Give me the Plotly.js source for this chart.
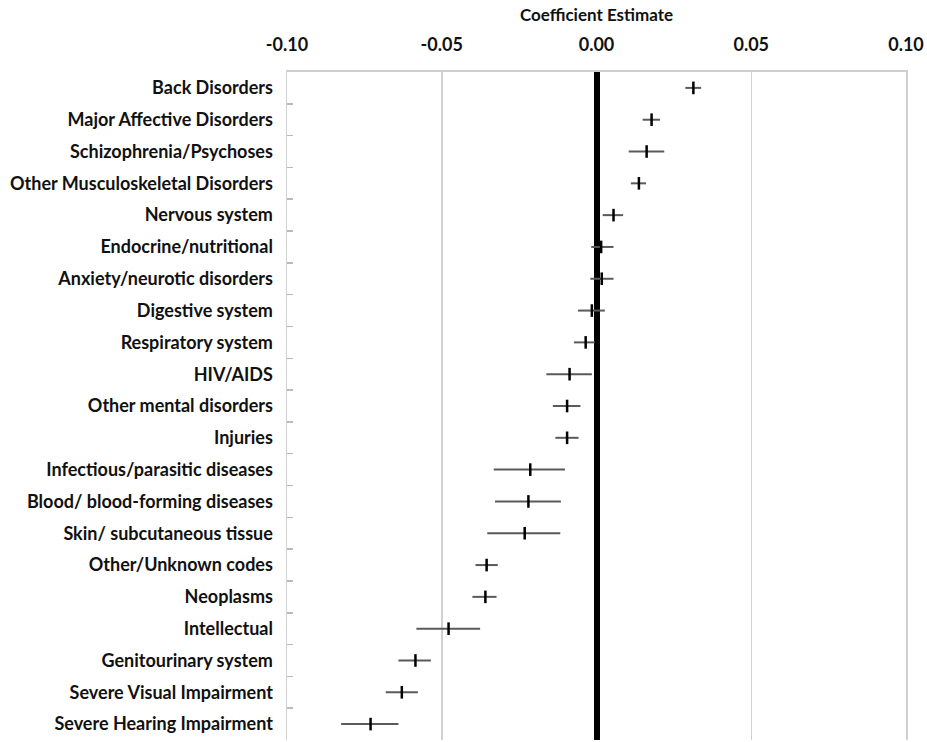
<!DOCTYPE html>
<html>
<head>
<meta charset="utf-8">
<script src="https://cdn.plot.ly/plotly-3.0.1.min.js"></script>
<style>html,body{margin:0;padding:0;background:#fff;}#chart{width:927px;height:742px;}</style>
</head>
<body>
<div id="chart"></div>
<script>
const categories = [
  "Back Disorders",
  "Major Affective Disorders",
  "Schizophrenia/Psychoses",
  "Other Musculoskeletal Disorders",
  "Nervous system",
  "Endocrine/nutritional",
  "Anxiety/neurotic disorders",
  "Digestive system",
  "Respiratory system",
  "HIV/AIDS",
  "Other mental disorders",
  "Injuries",
  "Infectious/parasitic diseases",
  "Blood/ blood-forming diseases",
  "Skin/ subcutaneous tissue",
  "Other/Unknown codes",
  "Neoplasms",
  "Intellectual",
  "Genitourinary system",
  "Severe Visual Impairment",
  "Severe Hearing Impairment"
];
const estimates = [0.0313, 0.0178, 0.0162, 0.0137, 0.0055, 0.0015, 0.0017, -0.0015, -0.0035, -0.0087, -0.0095, -0.0095, -0.0214, -0.0220, -0.0232, -0.0355, -0.0359, -0.0478, -0.0585, -0.0629, -0.0730];
const ciLower = [0.0287, 0.0149, 0.0104, 0.0111, 0.0020, -0.0017, -0.0020, -0.0060, -0.0073, -0.0162, -0.0141, -0.0133, -0.0332, -0.0328, -0.0353, -0.0391, -0.0401, -0.0582, -0.0640, -0.0681, -0.0825];
const ciUpper = [0.0338, 0.0205, 0.0219, 0.0160, 0.0086, 0.0055, 0.0055, 0.0027, -0.0006, -0.0015, -0.0052, -0.0058, -0.0102, -0.0115, -0.0117, -0.0319, -0.0323, -0.0376, -0.0535, -0.0577, -0.0640];
const tickVals = [-0.10, -0.05, 0.00, 0.05, 0.10];
const tickText = ["-0.10", "-0.05", "0.00", "0.05", "0.10"];

const plus = estimates.map((e, i) => ciUpper[i] - e);
const minus = estimates.map((e, i) => e - ciLower[i]);

const FONT = "Lato, 'Open Sans', sans-serif";

const trace = {
  type: 'scatter',
  mode: 'markers',
  x: estimates,
  y: categories,
  marker: {symbol: 'line-ns', size: 9, color: '#000', line: {color: '#000', width: 2.5}},
  error_x: {type: 'data', symmetric: false, array: plus, arrayminus: minus, color: '#5a5a5a', thickness: 2, width: 0},
  cliponaxis: false,
  hoverinfo: 'x+y'
};

const layout = {
  width: 927, height: 742,
  margin: {l: 287, r: 21, t: 72, b: 2},
  paper_bgcolor: '#fff', plot_bgcolor: '#fff',
  showlegend: false,
  font: {family: FONT, color: '#111'},
  xaxis: {
    side: 'top',
    range: [-0.1, 0.1],
    tickvals: tickVals, ticktext: tickText,
    tickfont: {family: FONT, size: 18, weight: 700, color: '#111'},
    showgrid: true, gridcolor: '#d0d0d0', gridwidth: 1.5,
    zeroline: true, zerolinecolor: '#000', zerolinewidth: 6,
    showline: true, linecolor: '#cfcfcf', linewidth: 2,
    ticks: '', ticklabelstandoff: 12,
    title: {text: 'Coefficient Estimate', font: {family: FONT, size: 17, weight: 700, color: '#111'}, standoff: 7},
    fixedrange: true
  },
  yaxis: {
    type: 'category',
    range: [20.5, -0.5],
    tickson: 'boundaries',
    ticks: 'inside', ticklen: 6, tickcolor: '#bbb', tickwidth: 1.5,
    showgrid: false, zeroline: false,
    showline: true, mirror: true, linecolor: '#d0d0d0', linewidth: 1.5,
    tickfont: {family: FONT, size: 18, weight: 700, color: '#111'},
    ticklabelstandoff: 9,
    fixedrange: true
  }
};

Plotly.newPlot('chart', [trace], layout, {displayModeBar: false, staticPlot: true});
</script>
</body>
</html>
